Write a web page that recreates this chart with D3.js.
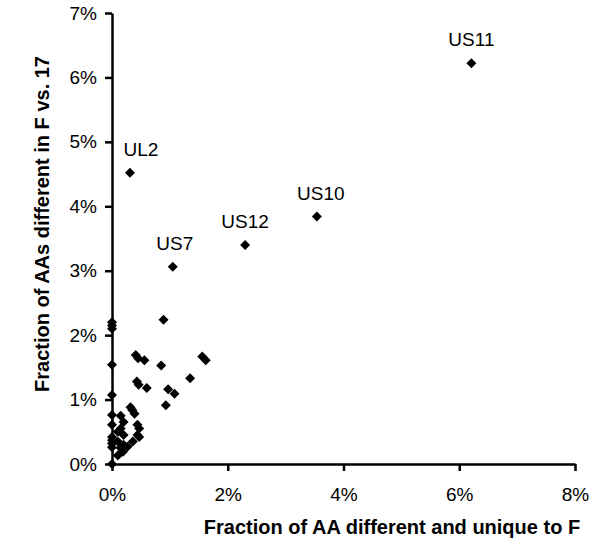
<!DOCTYPE html>
<html>
<head>
<meta charset="utf-8">
<script src="https://cdn.jsdelivr.net/npm/d3@7"></script>
<style>
  body { margin: 0; background: #fff; }
  text { font-family: "Liberation Sans", Arial, sans-serif; }
  .axis path, .axis line { stroke: #000; stroke-width: 2.5; }
  .axis text { font-size: 19px; fill: #000; }
  .title { font-size: 20px; font-weight: bold; }
  .lbl { font-size: 19px; }
</style>
</head>
<body>
<div id="chart"></div>
<script>
// values in percent
var xVals = [6.21, 0.31, 1.05, 2.30, 3.54,
  0.89, 0, 0, 0,
  0.41, 0.45, 0.56, 0.85, 1.56, 1.62,
  0, 1.35,
  0.43, 0.46, 0.60, 0.97, 1.08, 0.93,
  0, 0.32, 0.35, 0.39,
  0, 0.15, 0.20, 0.44, 0.47, 0,
  0.44, 0.47,
  0.10, 0.19, 0.27, 0.36,
  0, 0, 0, 0,
  0.10, 0.15, 0.20, 0.10, 0.20, 0.15,
  0];
var yVals = [6.22, 4.52, 3.06, 3.40, 3.84,
  2.24, 2.20, 2.15, 2.10,
  1.69, 1.64, 1.61, 1.53, 1.67, 1.61,
  1.54, 1.33,
  1.28, 1.23, 1.18, 1.16, 1.09, 0.91,
  1.07, 0.88, 0.84, 0.78,
  0.76, 0.75, 0.65, 0.61, 0.55, 0.61,
  0.45, 0.42,
  0.13, 0.19, 0.27, 0.35,
  0.42, 0.37, 0.32, 0.26,
  0.50, 0.55, 0.45, 0.35, 0.30, 0.25,
  0];
var pointNames = ["US11", "UL2", "US7", "US12", "US10"];
var xTicks = [0, 2, 4, 6, 8];
var yTicks = [0, 1, 2, 3, 4, 5, 6, 7];
var xTitle = "Fraction of AA different and unique to F";
var yTitle = "Fraction of AAs different in F vs. 17";

var width = 603, height = 556;
var margin = {left: 112, right: 28, top: 13, bottom: 92};

var svg = d3.select("#chart").append("svg")
  .attr("width", width)
  .attr("height", height);

var x = d3.scaleLinear().domain([0, 8]).range([margin.left, width - margin.right]);
var y = d3.scaleLinear().domain([0, 7]).range([height - margin.bottom, margin.top]);

var xAxis = svg.append("g")
  .attr("class", "axis")
  .attr("transform", "translate(0," + y(0) + ")")
  .call(d3.axisBottom(x).tickValues(xTicks).tickSize(7).tickSizeOuter(0).tickPadding(17)
    .tickFormat(function(d) { return d + "%"; }));

var yAxis = svg.append("g")
  .attr("class", "axis")
  .attr("transform", "translate(" + x(0) + ",0)")
  .call(d3.axisLeft(y).tickValues(yTicks).tickSize(7).tickSizeOuter(0).tickPadding(8)
    .tickFormat(function(d) { return d + "%"; }));

xAxis.selectAll("text").attr("font-family", null);
yAxis.selectAll("text").attr("font-family", null);

var data = xVals.map(function(v, i) {
  return {x: v, y: yVals[i], name: pointNames[i] || ""};
});

var diamond = d3.symbol().type(d3.symbolSquare).size(50);

svg.append("g").selectAll("path")
  .data(data)
  .enter()
  .append("path")
  .attr("d", diamond)
  .attr("fill", "#000")
  .attr("transform", function(d) {
    return "translate(" + x(d.x) + "," + y(d.y) + ") rotate(45)";
  });

// labels sit above their points, UL2 was nudged right in the original
var nudge = {UL2: 11, US7: 2, US10: 4};
svg.append("g").selectAll("text")
  .data(data.filter(function(d) { return d.name; }))
  .enter()
  .append("text")
  .attr("class", "lbl")
  .attr("text-anchor", "middle")
  .attr("x", function(d) { return x(d.x) + (nudge[d.name] || 0); })
  .attr("y", function(d) { return y(d.y) - 17; })
  .text(function(d) { return d.name; });

svg.append("text")
  .attr("class", "title")
  .attr("text-anchor", "middle")
  .attr("x", 392)
  .attr("y", 534)
  .text(xTitle);

svg.append("text")
  .attr("class", "title")
  .attr("text-anchor", "middle")
  .attr("transform", "translate(49,224) rotate(-90)")
  .text(yTitle);
</script>
</body>
</html>
